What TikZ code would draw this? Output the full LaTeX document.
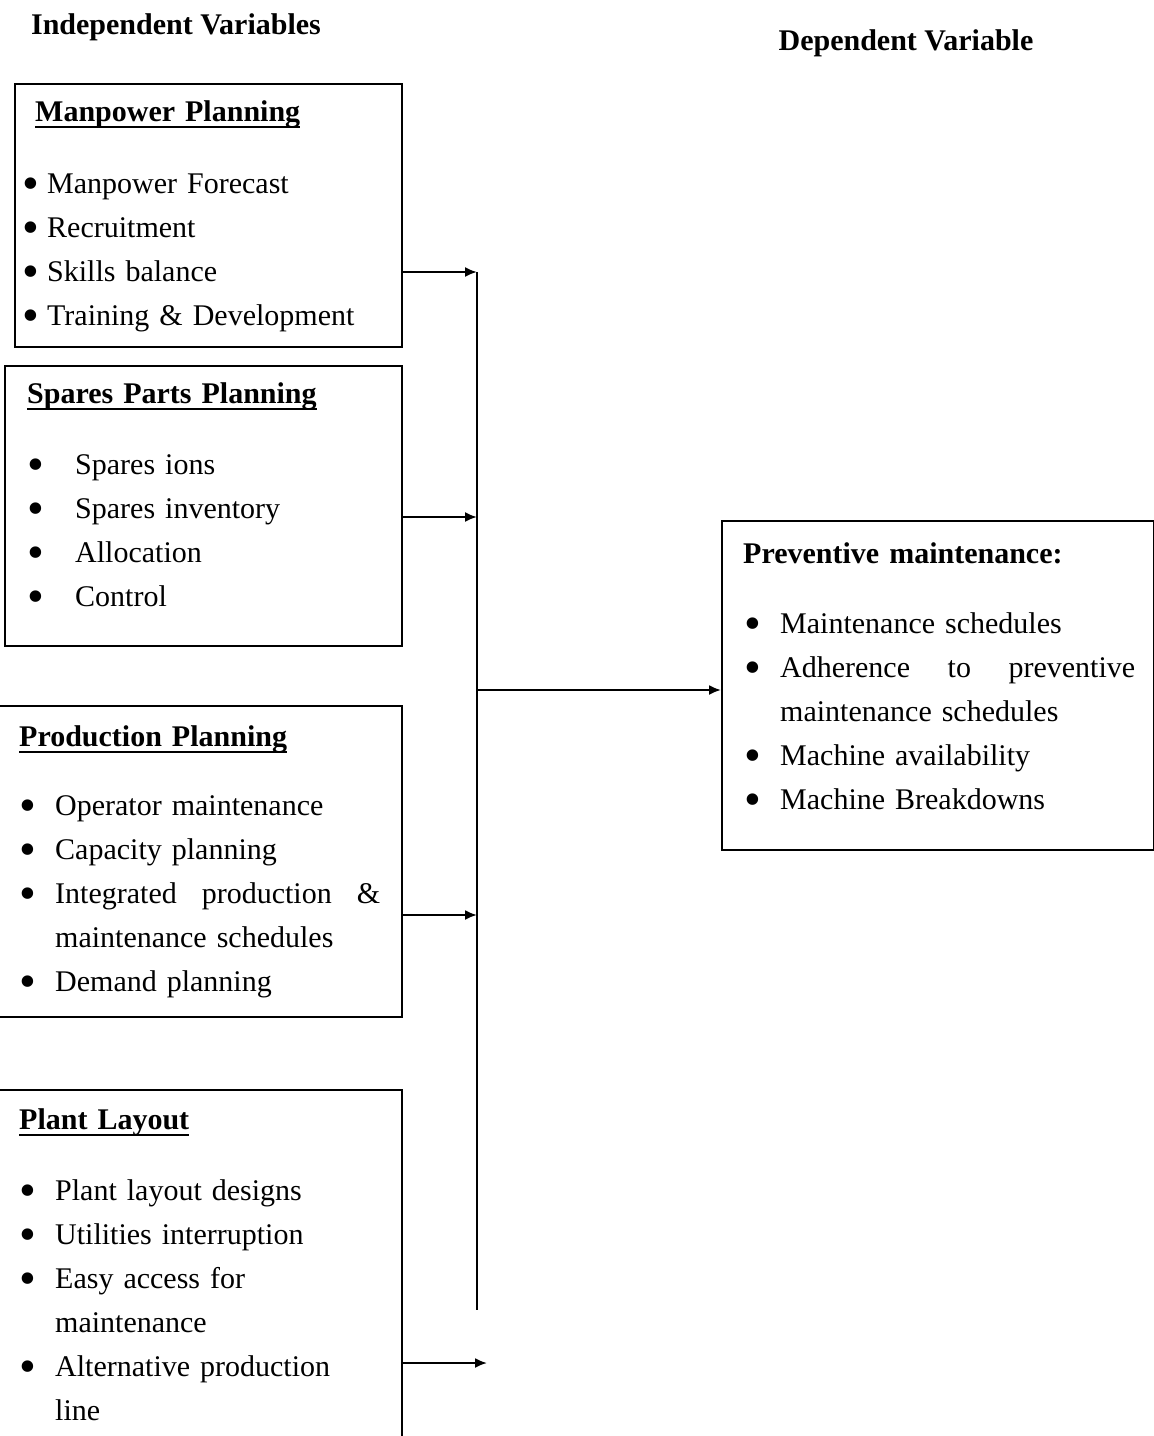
\documentclass[tikz,border=0pt]{standalone}
\usepackage{fontspec}
\setmainfont{Liberation Serif}
\usepackage{enumitem}
\usepackage{graphicx}
\usetikzlibrary{positioning,arrows.meta}
\setlength{\parskip}{0pt}
\setlength{\parindent}{0pt}
\newcommand{\pbullet}{\raisebox{-0.2em}{\scalebox{1.6}{\textbullet}}}
\newcommand{\uhead}[1]{\setbox0\hbox{\textbf{#1}}\rlap{\rule[-7pt]{\wd0}{2.5pt}}\box0}
\setlist[itemize]{label=\pbullet, align=left, labelwidth=12pt, labelsep=*,
  itemsep=0pt, parsep=0pt, partopsep=0pt}
\tikzstyle{vbox}=[rectangle, draw=black, line width=2pt, anchor=north west, inner sep=0pt]
\tikzstyle{vtext}=[anchor=north west, inner sep=0pt, font=\fontsize{30}{44}\selectfont]
\tikzstyle{vhead}=[inner sep=0pt, anchor=base, font=\fontsize{30}{44}\selectfont\bfseries]
\tikzstyle{pline}=[-, line width=2pt]
\tikzstyle{parrow}=[-{Latex[length=12pt,width=10pt]}, line width=2pt]
\begin{document}
\begin{tikzpicture}[x=1pt, y=-1pt]
\useasboundingbox (0,0) rectangle (1154,1436);
\clip (0,0) rectangle (1154,1436);

\node (IVH) [vhead] at (176,34) {Independent Variables};
\node (DVH) [vhead] at (906,50) {Dependent Variable};

% independent variables
\node (MP) [vbox, minimum width=387pt, minimum height=263pt] at (14,83) {};
\node (MPT) [vtext, text width=364pt, below right=17pt and 11pt of MP.north west] {%
\hspace*{10pt}\uhead{Manpower Planning}
\begin{itemize}[leftmargin=22pt, labelindent=-3pt, topsep=28pt]
\item Manpower Forecast
\item Recruitment
\item Skills balance
\item Training \& Development
\end{itemize}};

\node (SP) [vbox, minimum width=397pt, minimum height=280pt] at (4,365) {};
\node (SPT) [vtext, text width=362pt, below right=17pt and 23pt of SP.north west] {%
\uhead{Spares Parts Planning}
\begin{itemize}[leftmargin=48pt, labelindent=0pt, topsep=27pt]
\item Spares ions
\item Spares inventory
\item Allocation
\item Control
\end{itemize}};

\node (PP) [vbox, minimum width=404pt, minimum height=311pt] at (-3,705) {};
\node (PPT) [vtext, text width=361pt, below right=20pt and 22pt of PP.north west] {%
\uhead{Production Planning}
\begin{itemize}[leftmargin=36pt, labelindent=0pt, topsep=25pt]
\item Operator maintenance
\item Capacity planning
\item Integrated\hfill production\hfill \&\\ maintenance schedules
\item Demand planning
\end{itemize}};

\node (PL) [vbox, minimum width=404pt, minimum height=400pt] at (-3,1089) {};
\node (PLT) [vtext, text width=361pt, below right=19pt and 22pt of PL.north west] {%
\uhead{Plant Layout}
\begin{itemize}[leftmargin=36pt, labelindent=0pt, topsep=27pt]
\item Plant layout designs
\item Utilities interruption
\item Easy access for\\ maintenance
\item Alternative production\\ line
\end{itemize}};

% dependent variable
\node (PM) [vbox, minimum width=432pt, minimum height=329pt] at (721,520) {};
\node (PMT) [vtext, text width=392pt, below right=22pt and 22pt of PM.north west] {%
\textbf{Preventive maintenance:}
\begin{itemize}[leftmargin=37pt, labelindent=1pt, topsep=26pt]
\item Maintenance schedules
\item Adherence\hfill to\hfill preventive\\ maintenance schedules
\item Machine availability
\item Machine Breakdowns
\end{itemize}};

% connectors
\coordinate (busT) at (477,272);
\coordinate (busB) at (477,1310);
\coordinate (jSP) at (477,517);
\coordinate (jPP) at (477,915);
\coordinate (jPM) at (477,690);
\coordinate (tPL) at (487,1363);
\draw[pline] (busT) -- (busB);
\draw[parrow] (MP.east |- busT) -- (busT);
\draw[parrow] (SP.east |- jSP) -- (jSP);
\draw[parrow] (PP.east |- jPP) -- (jPP);
\draw[parrow] (PL.east |- tPL) -- (tPL);
\draw[parrow] (jPM) -- (jPM -| PM.west);

\end{tikzpicture}
\end{document}
